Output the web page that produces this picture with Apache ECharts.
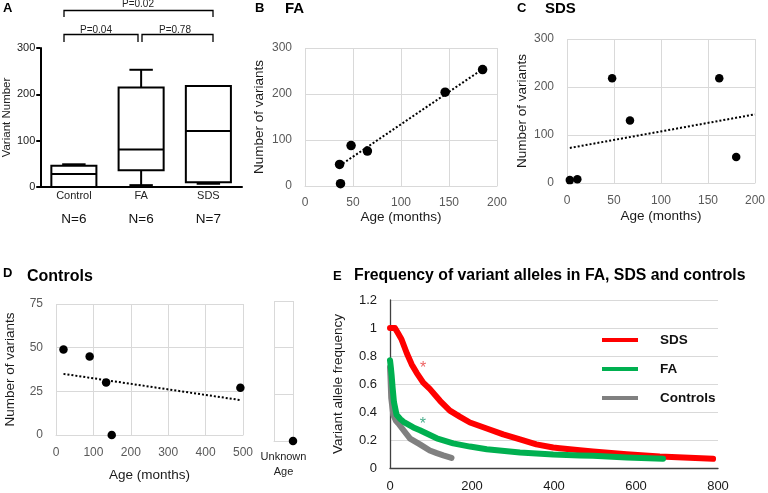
<!DOCTYPE html>
<html><head><meta charset="utf-8">
<script src="https://cdn.jsdelivr.net/npm/echarts@6/dist/echarts.min.js"></script>
<style>html,body{margin:0;padding:0;background:#fff}#c{width:768px;height:493px}</style>
</head><body><div id="c"></div>
<script>
// ---------- Panel A: box plot ----------
const boxCategories = ['Control', 'FA', 'SDS'];
const boxCounts = ['N=6', 'N=6', 'N=7'];
// [min, Q1, median, Q3, max]
const boxControl = [0, 0, 28, 46, 49];
const boxFA = [4, 36, 81, 215, 253];
const boxSDS = [7, 10, 121, 218, 218];
const pLabels = ['P=0.02', 'P=0.04', 'P=0.78'];

// ---------- Panel B: FA ----------
const faAge = [36, 37, 48, 65, 146, 185];
const faVariants = [47, 5, 88, 76, 204, 253];
const faTrendX = [36, 185];
const faTrendY = [44, 254];

// ---------- Panel C: SDS ----------
const sdsAge = [3, 11, 48, 67, 162, 180];
const sdsVariants = [6, 8, 218, 130, 218, 54];
const sdsTrendX = [3, 200];
const sdsTrendY = [73, 143];

// ---------- Panel D: Controls ----------
const ctrlAge = [20, 90, 134, 149, 493];
const ctrlVariants = [49, 45, 30, 0, 27];
const ctrlTrendX = [20, 493];
const ctrlTrendY = [35, 20];
const ctrlUnknownVariants = [0];

// ---------- Panel E: variant allele frequency ----------
const sdsRank = [0, 12, 20, 28, 41, 53, 65, 81, 97, 122, 146, 171, 195, 236, 276, 317, 357, 398, 414, 463, 495, 577, 658, 788];
const sdsVaf  = [1.0, 1.0, 0.96, 0.92, 0.82, 0.74, 0.68, 0.61, 0.565, 0.48, 0.41, 0.365, 0.325, 0.282, 0.24, 0.205, 0.169, 0.146, 0.141, 0.127, 0.118, 0.099, 0.082, 0.066];
const faRank = [0, 2, 4, 6.5, 9.7, 16, 25, 33, 57, 73, 114, 154, 195, 236, 317, 398, 463, 495, 577, 666];
const faVaf  = [0.77, 0.72, 0.66, 0.57, 0.47, 0.38, 0.35, 0.33, 0.29, 0.27, 0.212, 0.176, 0.153, 0.134, 0.111, 0.096, 0.09, 0.087, 0.075, 0.066];
const ctrlRank = [0, 1, 3, 8, 14, 20, 33, 49, 73, 97, 114, 130, 150];
const ctrlVaf  = [0.72, 0.66, 0.5, 0.38, 0.34, 0.32, 0.27, 0.21, 0.169, 0.125, 0.106, 0.09, 0.072];
const starPoints = [[81, 0.74], [80, 0.34]];

const zip = (a, b) => a.map((v, i) => [v, b[i]]);
const FONT = 'Liberation Sans, Arial, sans-serif';
const GRID = '#d9d9d9';

function excelAxis(dim, gridIndex, min, max, interval, name, nameGap, margin, showName) {
  return {
    gridIndex, type: 'value', min, max, interval,
    name: name, nameLocation: 'middle', nameGap,
    nameTextStyle: { fontSize: 13.5, color: '#1a1a1a', fontFamily: FONT },
    axisLine: { show: dim === 'x', lineStyle: { color: GRID, width: 1 } },
    axisTick: { show: false },
    axisLabel: { show: showName !== false, color: '#595959', fontSize: 12, margin },
    splitLine: { show: true, lineStyle: { color: GRID, width: 1 } }
  };
}

function renderBox(params, api) {
  const idx = api.value(0);
  const xc = api.coord([idx, 0])[0];
  const y = i => api.coord([idx, api.value(i)])[1];
  const bw = api.size([1, 0])[0] * 0.67;
  const cw = bw * 0.52;
  const yMin = y(1), yQ1 = y(2), yMed = y(3), yQ3 = y(4), yMax = y(5);
  const st = { stroke: '#000', lineWidth: 2, fill: null };
  return {
    type: 'group', children: [
      { type: 'line', shape: { x1: xc, y1: yQ3, x2: xc, y2: yMax }, style: st },
      { type: 'line', shape: { x1: xc, y1: yQ1, x2: xc, y2: yMin }, style: st },
      { type: 'line', shape: { x1: xc - cw / 2, y1: yMax, x2: xc + cw / 2, y2: yMax }, style: st },
      { type: 'line', shape: { x1: xc - cw / 2, y1: yMin, x2: xc + cw / 2, y2: yMin }, style: st },
      { type: 'rect', shape: { x: xc - bw / 2, y: yQ3, width: bw, height: yQ1 - yQ3 }, style: { stroke: '#000', lineWidth: 2, fill: 'rgba(255,255,255,0)' } },
      { type: 'line', shape: { x1: xc - bw / 2, y1: yMed, x2: xc + bw / 2, y2: yMed }, style: st }
    ]
  };
}

function txt(text, x, y, size, weight, align, color) {
  return {
    type: 'text', x, y, z: 100,
    style: {
      text, fontSize: size, fontWeight: weight || 'normal', fontFamily: FONT, fill: color || '#000',
      align: align || 'left', textAlign: align || 'left', verticalAlign: 'middle', textVerticalAlign: 'middle'
    }
  };
}
function bracket(x1, x2, yTop, yBot) {
  return {
    type: 'polyline', z: 100,
    shape: { points: [[x1, yBot], [x1, yTop], [x2, yTop], [x2, yBot]] },
    style: { stroke: '#000', lineWidth: 1.3, fill: null }
  };
}
const dot = { color: '#000', opacity: 1 };

const chart = echarts.init(document.getElementById('c'), null, { renderer: 'canvas' });
const option = {
  animation: false,
  textStyle: { fontFamily: FONT },
  grid: [
    { left: 40, top: 48, width: 202, height: 139 },   // A
    { left: 305, top: 48, width: 192, height: 138 },  // B
    { left: 567, top: 39, width: 191, height: 144 },  // C
    { left: 56, top: 304, width: 187, height: 131 },  // D
    { left: 274, top: 301, width: 19, height: 140 },  // D unknown
    { left: 390, top: 300, width: 328, height: 170 }  // E
  ],
  xAxis: [
    {
      gridIndex: 0, type: 'category', data: boxCategories,
      axisLine: { lineStyle: { color: '#000', width: 2 } },
      axisTick: { show: false },
      axisLabel: {
        margin: 1, interval: 0,
        formatter: (v, i) => '{a|' + v + '}\n{b|' + boxCounts[i] + '}',
        rich: {
          a: { fontSize: 11, lineHeight: 16, color: '#222', fontFamily: FONT },
          b: { fontSize: 13.5, lineHeight: 30, color: '#111', fontFamily: FONT }
        }
      }
    },
    excelAxis('x', 1, 0, 200, 50, 'Age (months)', 24, 11),
    excelAxis('x', 2, 0, 200, 50, 'Age (months)', 26, 12),
    excelAxis('x', 3, 0, 500, 100, 'Age (months)', 33, 12),
    Object.assign(excelAxis('x', 4, 0, 1, 1, 'Unknown\nAge', 8, 12, false), {
      nameTextStyle: { fontSize: 11, lineHeight: 15, color: '#222', fontFamily: FONT }
    }),
    {
      gridIndex: 5, type: 'value', min: 0, max: 800, interval: 200,
      axisLine: { show: true, lineStyle: { color: '#404040', width: 1.3 } },
      axisTick: { show: false },
      axisLabel: { color: '#1a1a1a', fontSize: 13, margin: 12 },
      splitLine: { show: false }
    }
  ],
  yAxis: [
    {
      gridIndex: 0, type: 'value', min: 0, max: 300, interval: 100,
      name: 'Variant Number', nameLocation: 'middle', nameGap: 24,
      nameTextStyle: { fontSize: 11.5, color: '#222', fontFamily: FONT },
      axisLine: { show: true, lineStyle: { color: '#000', width: 2 } },
      axisTick: { show: true, length: 4, lineStyle: { color: '#000', width: 2 } },
      axisLabel: { color: '#222', fontSize: 11, margin: 5 },
      splitLine: { show: false }
    },
    excelAxis('y', 1, 0, 300, 100, 'Number of variants', 39, 13),
    excelAxis('y', 2, 0, 300, 100, 'Number of variants', 38, 13),
    excelAxis('y', 3, 0, 75, 25, 'Number of variants', 39, 13),
    excelAxis('y', 4, 0, 75, 25, '', 10, 10, false),
    {
      gridIndex: 5, type: 'value', min: 0, max: 1.2, interval: 0.2,
      name: 'Variant allele frequency', nameLocation: 'middle', nameGap: 45,
      nameTextStyle: { fontSize: 13.5, color: '#1a1a1a', fontFamily: FONT },
      axisLine: { show: true, lineStyle: { color: '#404040', width: 1.3 } },
      axisTick: { show: false },
      axisLabel: { color: '#1a1a1a', fontSize: 13, margin: 13 },
      splitLine: { show: true, lineStyle: { color: GRID, width: 1 } }
    }
  ],
  legend: {
    orient: 'vertical', left: 602, top: 333, itemGap: 15, padding: 0,
    icon: 'rect', itemWidth: 36, itemHeight: 4,
    data: ['SDS', 'FA', 'Controls'],
    textStyle: { fontSize: 13.5, fontWeight: 'bold', color: '#111', padding: [0, 0, 0, 17], fontFamily: FONT }
  },
  series: [
    {
      type: 'custom', xAxisIndex: 0, yAxisIndex: 0, renderItem: renderBox,
      encode: { x: 0, y: [1, 2, 3, 4, 5] },
      data: [[0].concat(boxControl), [1].concat(boxFA), [2].concat(boxSDS)]
    },
    { type: 'line', xAxisIndex: 1, yAxisIndex: 1, data: zip(faTrendX, faTrendY), showSymbol: false, lineStyle: { color: '#000', width: 2, type: [2, 2] } },
    { type: 'scatter', xAxisIndex: 1, yAxisIndex: 1, data: zip(faAge, faVariants), symbolSize: 9.5, itemStyle: dot },
    { type: 'line', xAxisIndex: 2, yAxisIndex: 2, data: zip(sdsTrendX, sdsTrendY), showSymbol: false, lineStyle: { color: '#000', width: 2, type: [2, 2] } },
    { type: 'scatter', xAxisIndex: 2, yAxisIndex: 2, data: zip(sdsAge, sdsVariants), symbolSize: 8.5, itemStyle: dot },
    { type: 'line', xAxisIndex: 3, yAxisIndex: 3, data: zip(ctrlTrendX, ctrlTrendY), showSymbol: false, lineStyle: { color: '#000', width: 2, type: [2, 2] } },
    { type: 'scatter', xAxisIndex: 3, yAxisIndex: 3, data: zip(ctrlAge, ctrlVariants), symbolSize: 8.5, itemStyle: dot, clip: false },
    { type: 'scatter', xAxisIndex: 4, yAxisIndex: 4, data: ctrlUnknownVariants.map(v => [1, v]), symbolSize: 8.5, itemStyle: dot, clip: false },
    {
      name: 'Controls', type: 'line', xAxisIndex: 5, yAxisIndex: 5, data: zip(ctrlRank, ctrlVaf),
      showSymbol: false, clip: false, color: '#808080',
      lineStyle: { color: '#808080', width: 6, cap: 'round', join: 'round' }
    },
    {
      name: 'SDS', type: 'line', xAxisIndex: 5, yAxisIndex: 5, data: zip(sdsRank, sdsVaf),
      showSymbol: false, clip: false, color: '#ff0000',
      lineStyle: { color: '#ff0000', width: 6, cap: 'round', join: 'round' }
    },
    {
      name: 'FA', type: 'line', xAxisIndex: 5, yAxisIndex: 5, data: zip(faRank, faVaf),
      showSymbol: false, clip: false, color: '#00b050',
      lineStyle: { color: '#00b050', width: 6, cap: 'round', join: 'round' }
    },
    {
      type: 'scatter', xAxisIndex: 5, yAxisIndex: 5, symbolSize: 0, silent: true,
      data: [
        { value: starPoints[0], label: { color: '#e8393a' } },
        { value: starPoints[1], label: { color: '#1a9a6e' } }
      ],
      label: { show: true, formatter: '*', position: 'inside', fontSize: 16, offset: [0, 4], fontFamily: FONT }
    }
  ],
  graphic: [
    txt('A', 3, 8, 13, 'bold'),
    txt('B', 255, 8, 13, 'bold'),
    txt('FA', 285, 8.5, 15, 'bold'),
    txt('C', 517, 8.5, 13, 'bold'),
    txt('SDS', 545, 8.5, 15, 'bold'),
    txt('D', 3, 273, 13, 'bold'),
    txt('Controls', 27, 277, 16, 'bold'),
    txt('E', 333, 276, 13, 'bold'),
    txt('Frequency of variant alleles in FA, SDS and controls', 354, 276, 15.8, 'bold'),
    bracket(64, 213, 10.5, 17),
    bracket(64, 138, 34.5, 42),
    bracket(142, 213, 34.5, 42),
    txt(pLabels[0], 138, 4, 10, 'normal', 'center', '#222'),
    txt(pLabels[1], 96, 30, 10, 'normal', 'center', '#222'),
    txt(pLabels[2], 175, 30, 10, 'normal', 'center', '#222')
  ]
};
chart.setOption(option);
</script>
</body></html>
